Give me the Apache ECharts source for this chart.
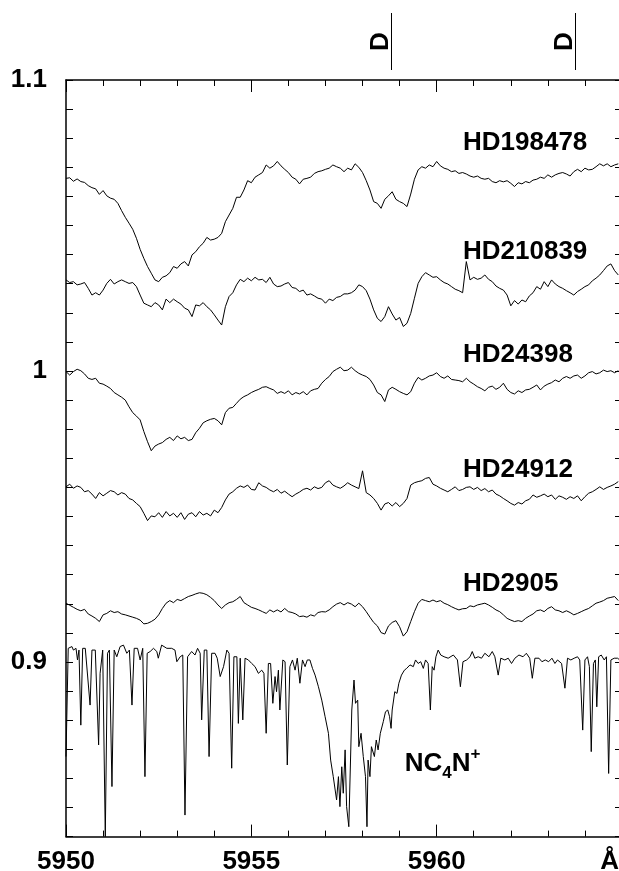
<!DOCTYPE html>
<html>
<head>
<meta charset="utf-8">
<script src="https://cdn.jsdelivr.net/npm/echarts@6/dist/echarts.min.js"></script>
<style>
  html, body { margin: 0; padding: 0; background: #fff; }
  #main { width: 619px; height: 871px; }
</style>
</head>
<body>
<div id="main"></div>
<script>
// stellar spectra: sampled every 0.1 A from 5950.0 A (150 points each)
var WAVE_START = 5950.0;
var WAVE_STEP = 0.1;

var hd198478 = [
  1.0662, 1.0664, 1.0652, 1.0660, 1.0651, 1.0648, 1.0637, 1.0630, 1.0626, 1.0607,
  1.0620, 1.0602, 1.0594, 1.0590, 1.0576, 1.0551, 1.0528, 1.0508, 1.0487, 1.0456,
  1.0418, 1.0387, 1.0359, 1.0336, 1.0313, 1.0307, 1.0322, 1.0327, 1.0338, 1.0359,
  1.0353, 1.0368, 1.0376, 1.0361, 1.0399, 1.0410, 1.0427, 1.0439, 1.0459, 1.0450,
  1.0453, 1.0459, 1.0473, 1.0513, 1.0536, 1.0559, 1.0597, 1.0597, 1.0622, 1.0654,
  1.0647, 1.0666, 1.0674, 1.0682, 1.0708, 1.0697, 1.0705, 1.0720, 1.0705, 1.0693,
  1.0682, 1.0666, 1.0659, 1.0643, 1.0659, 1.0662, 1.0666, 1.0679, 1.0685, 1.0688,
  1.0693, 1.0697, 1.0708, 1.0702, 1.0697, 1.0685, 1.0697, 1.0691, 1.0712, 1.0700,
  1.0682, 1.0654, 1.0622, 1.0582, 1.0576, 1.0559, 1.0590, 1.0602, 1.0616, 1.0590,
  1.0582, 1.0576, 1.0565, 1.0608, 1.0659, 1.0691, 1.0702, 1.0697, 1.0708, 1.0702,
  1.0720, 1.0705, 1.0697, 1.0693, 1.0685, 1.0688, 1.0679, 1.0682, 1.0677, 1.0670,
  1.0666, 1.0670, 1.0662, 1.0659, 1.0662, 1.0651, 1.0647, 1.0654, 1.0650, 1.0654,
  1.0645, 1.0634, 1.0647, 1.0643, 1.0651, 1.0647, 1.0656, 1.0659, 1.0666, 1.0662,
  1.0674, 1.0666, 1.0674, 1.0679, 1.0682, 1.0677, 1.0670, 1.0685, 1.0693, 1.0685,
  1.0697, 1.0691, 1.0693, 1.0702, 1.0712, 1.0705, 1.0712, 1.0702, 1.0708, 1.0712
];

var hd210839 = [
  1.0313, 1.0304, 1.0307, 1.0296, 1.0299, 1.0304, 1.0284, 1.0261, 1.0269, 1.0261,
  1.0278, 1.0301, 1.0315, 1.0299, 1.0307, 1.0313, 1.0307, 1.0301, 1.0304, 1.0290,
  1.0261, 1.0233, 1.0227, 1.0221, 1.0235, 1.0227, 1.0210, 1.0247, 1.0235, 1.0247,
  1.0238, 1.0230, 1.0216, 1.0210, 1.0187, 1.0227, 1.0224, 1.0235, 1.0221, 1.0210,
  1.0193, 1.0175, 1.0158, 1.0221, 1.0256, 1.0269, 1.0296, 1.0315, 1.0307, 1.0319,
  1.0310, 1.0322, 1.0313, 1.0315, 1.0304, 1.0322, 1.0299, 1.0290, 1.0292, 1.0299,
  1.0304, 1.0287, 1.0284, 1.0273, 1.0278, 1.0261, 1.0265, 1.0258, 1.0250, 1.0247,
  1.0233, 1.0247, 1.0242, 1.0253, 1.0256, 1.0265, 1.0265, 1.0269, 1.0278, 1.0296,
  1.0290, 1.0276, 1.0247, 1.0210, 1.0181, 1.0170, 1.0187, 1.0221, 1.0196, 1.0175,
  1.0184, 1.0153, 1.0164, 1.0198, 1.0250, 1.0301, 1.0324, 1.0338, 1.0330, 1.0322,
  1.0324, 1.0313, 1.0304, 1.0299, 1.0290, 1.0281, 1.0276, 1.0269, 1.0376, 1.0313,
  1.0322, 1.0315, 1.0319, 1.0330, 1.0315, 1.0307, 1.0292, 1.0284, 1.0278, 1.0261,
  1.0224, 1.0242, 1.0230, 1.0244, 1.0238, 1.0258, 1.0269, 1.0290, 1.0281, 1.0307,
  1.0290, 1.0313, 1.0299, 1.0290, 1.0284, 1.0276, 1.0269, 1.0261, 1.0273, 1.0281,
  1.0290, 1.0296, 1.0310, 1.0319, 1.0330, 1.0345, 1.0361, 1.0368, 1.0345, 1.0330
];

var hd24398 = [
  0.9998, 0.9986, 0.9998, 1.0006, 1.0001, 0.9990, 0.9975, 0.9971, 0.9975, 0.9958,
  0.9955, 0.9948, 0.9940, 0.9926, 0.9918, 0.9910, 0.9900, 0.9877, 0.9857, 0.9845,
  0.9832, 0.9792, 0.9757, 0.9726, 0.9742, 0.9749, 0.9754, 0.9765, 0.9772, 0.9761,
  0.9777, 0.9767, 0.9772, 0.9761, 0.9765, 0.9788, 0.9803, 0.9822, 0.9829, 0.9834,
  0.9837, 0.9829, 0.9815, 0.9857, 0.9872, 0.9875, 0.9889, 0.9903, 0.9912, 0.9918,
  0.9926, 0.9932, 0.9937, 0.9944, 0.9946, 0.9940, 0.9935, 0.9923, 0.9929, 0.9923,
  0.9932, 0.9918, 0.9926, 0.9921, 0.9929, 0.9918, 0.9932, 0.9937, 0.9940, 0.9958,
  0.9971, 0.9981, 0.9998, 1.0006, 1.0013, 1.0001, 1.0003, 1.0013, 1.0001, 0.9992,
  0.9986, 0.9981, 0.9971, 0.9952, 0.9926, 0.9918, 0.9895, 0.9935, 0.9944, 0.9937,
  0.9929, 0.9923, 0.9918, 0.9929, 0.9958, 0.9978, 0.9969, 0.9975, 0.9983, 0.9986,
  0.9994, 0.9981, 0.9975, 0.9983, 0.9971, 0.9969, 0.9967, 0.9963, 0.9975, 0.9963,
  0.9955, 0.9946, 0.9940, 0.9932, 0.9944, 0.9948, 0.9937, 0.9944, 0.9958, 0.9937,
  0.9926, 0.9921, 0.9932, 0.9926, 0.9935, 0.9937, 0.9944, 0.9952, 0.9935, 0.9948,
  0.9955, 0.9960, 0.9969, 0.9963, 0.9975, 0.9981, 0.9975, 0.9983, 0.9986, 0.9975,
  0.9983, 0.9994, 0.9998, 0.9990, 0.9994, 1.0003, 0.9998, 1.0001, 0.9994, 1.0001
];

var hd24912 = [
  0.9602, 0.9611, 0.9597, 0.9605, 0.9600, 0.9585, 0.9589, 0.9577, 0.9562, 0.9582,
  0.9571, 0.9580, 0.9589, 0.9585, 0.9574, 0.9582, 0.9577, 0.9562, 0.9557, 0.9545,
  0.9534, 0.9511, 0.9486, 0.9502, 0.9499, 0.9513, 0.9497, 0.9517, 0.9502, 0.9511,
  0.9497, 0.9513, 0.9490, 0.9508, 0.9513, 0.9499, 0.9517, 0.9505, 0.9511, 0.9502,
  0.9522, 0.9513, 0.9531, 0.9557, 0.9577, 0.9585, 0.9597, 0.9605, 0.9600, 0.9608,
  0.9593, 0.9591, 0.9616, 0.9605, 0.9600, 0.9591, 0.9585, 0.9593, 0.9580, 0.9587,
  0.9577, 0.9568, 0.9577, 0.9584, 0.9593, 0.9597, 0.9591, 0.9602, 0.9596, 0.9600,
  0.9616, 0.9623, 0.9608, 0.9602, 0.9597, 0.9605, 0.9616, 0.9608, 0.9602, 0.9596,
  0.9657, 0.9582, 0.9574, 0.9562, 0.9545, 0.9522, 0.9543, 0.9548, 0.9536, 0.9548,
  0.9534, 0.9545, 0.9562, 0.9608, 0.9616, 0.9620, 0.9623, 0.9631, 0.9634, 0.9611,
  0.9605, 0.9597, 0.9591, 0.9585, 0.9593, 0.9602, 0.9589, 0.9593, 0.9600, 0.9602,
  0.9593, 0.9600, 0.9589, 0.9596, 0.9585, 0.9591, 0.9577, 0.9571, 0.9562, 0.9554,
  0.9545, 0.9539, 0.9548, 0.9543, 0.9554, 0.9559, 0.9574, 0.9566, 0.9571, 0.9577,
  0.9568, 0.9574, 0.9559, 0.9571, 0.9566, 0.9559, 0.9568, 0.9562, 0.9571, 0.9554,
  0.9568, 0.9580, 0.9585, 0.9593, 0.9602, 0.9593, 0.9600, 0.9605, 0.9611, 0.9620
];

var hd2905 = [
  0.9202, 0.9195, 0.9188, 0.9181, 0.9176, 0.9181, 0.9165, 0.9158, 0.9150, 0.9139,
  0.9162, 0.9167, 0.9176, 0.9170, 0.9173, 0.9165, 0.9162, 0.9158, 0.9154, 0.9150,
  0.9144, 0.9131, 0.9133, 0.9139, 0.9147, 0.9162, 0.9184, 0.9202, 0.9211, 0.9204,
  0.9215, 0.9211, 0.9218, 0.9225, 0.9229, 0.9234, 0.9238, 0.9236, 0.9231, 0.9222,
  0.9211, 0.9196, 0.9184, 0.9196, 0.9204, 0.9207, 0.9215, 0.9225, 0.9204, 0.9196,
  0.9188, 0.9184, 0.9179, 0.9173, 0.9167, 0.9179, 0.9172, 0.9179, 0.9172, 0.9184,
  0.9173, 0.9170, 0.9165, 0.9156, 0.9158, 0.9154, 0.9162, 0.9158, 0.9170, 0.9173,
  0.9172, 0.9179, 0.9190, 0.9199, 0.9204, 0.9196, 0.9204, 0.9199, 0.9190, 0.9202,
  0.9190, 0.9173, 0.9154, 0.9136, 0.9124, 0.9101, 0.9096, 0.9124, 0.9136, 0.9142,
  0.9121, 0.9089, 0.9104, 0.9139, 0.9173, 0.9202, 0.9215, 0.9211, 0.9207, 0.9213,
  0.9207, 0.9211, 0.9202, 0.9197, 0.9190, 0.9184, 0.9179, 0.9183, 0.9184, 0.9193,
  0.9190, 0.9196, 0.9199, 0.9202, 0.9196, 0.9188, 0.9179, 0.9173, 0.9162, 0.9150,
  0.9144, 0.9139, 0.9142, 0.9139, 0.9150, 0.9158, 0.9165, 0.9176, 0.9179, 0.9173,
  0.9184, 0.9190, 0.9179, 0.9176, 0.9170, 0.9176, 0.9170, 0.9162, 0.9167, 0.9173,
  0.9179, 0.9184, 0.9193, 0.9202, 0.9206, 0.9211, 0.9219, 0.9222, 0.9225, 0.9211
];

// lab spectrum of NC4N+ : [wavelength, relative intensity], denser where lines are
var nc4n = [
  [5950.00, 0.8675], [5950.06, 0.9047], [5950.16, 0.9053], [5950.20, 0.9041], [5950.27, 0.9047],
  [5950.31, 0.9007], [5950.35, 0.9041], [5950.40, 0.8783], [5950.45, 0.9047], [5950.52, 0.9047],
  [5950.56, 0.9041], [5950.65, 0.8852], [5950.70, 0.9041], [5950.79, 0.9041], [5950.88, 0.8715],
  [5950.92, 0.8961], [5950.99, 0.9041], [5951.06, 0.8400], [5951.12, 0.9030], [5951.17, 0.9041],
  [5951.24, 0.8572], [5951.30, 0.9041], [5951.37, 0.9018], [5951.46, 0.9053], [5951.55, 0.9058],
  [5951.64, 0.9030], [5951.71, 0.9041], [5951.78, 0.8852], [5951.84, 0.9047], [5951.93, 0.9047],
  [5952.00, 0.9007], [5952.07, 0.9047], [5952.13, 0.8606], [5952.19, 0.9030], [5952.27, 0.9036],
  [5952.36, 0.9047], [5952.45, 0.9036], [5952.49, 0.9013], [5952.58, 0.9058], [5952.72, 0.9047],
  [5952.85, 0.9047], [5952.94, 0.9041], [5952.99, 0.9001], [5953.08, 0.9018], [5953.15, 0.9024],
  [5953.21, 0.8474], [5953.28, 0.9018], [5953.39, 0.9036], [5953.48, 0.9024], [5953.55, 0.9047],
  [5953.62, 0.9030], [5953.66, 0.8801], [5953.73, 0.9041], [5953.80, 0.9041], [5953.86, 0.8675],
  [5953.93, 0.9030], [5954.02, 0.9030], [5954.08, 0.9013], [5954.16, 0.8950], [5954.25, 0.8984],
  [5954.34, 0.9041], [5954.40, 0.9030], [5954.47, 0.8635], [5954.53, 0.9018], [5954.61, 0.9018],
  [5954.65, 0.8789], [5954.70, 0.9013], [5954.77, 0.8801], [5954.83, 0.9013], [5954.92, 0.9007],
  [5955.01, 0.8995], [5955.10, 0.8984], [5955.19, 0.8961], [5955.28, 0.8972], [5955.34, 0.8961],
  [5955.40, 0.8755], [5955.46, 0.8995], [5955.52, 0.8995], [5955.58, 0.8858], [5955.64, 0.8950],
  [5955.68, 0.8898], [5955.73, 0.8972], [5955.77, 0.8835], [5955.85, 0.9007], [5955.91, 0.9001],
  [5955.97, 0.8646], [5956.04, 0.8984], [5956.11, 0.9007], [5956.18, 0.8972], [5956.24, 0.9013],
  [5956.31, 0.8927], [5956.38, 0.9007], [5956.45, 0.8984], [5956.51, 0.9007], [5956.58, 0.9007],
  [5956.65, 0.8978], [5956.72, 0.8955], [5956.81, 0.8915], [5956.90, 0.8869], [5956.99, 0.8812],
  [5957.08, 0.8755], [5957.14, 0.8663], [5957.21, 0.8606], [5957.26, 0.8606], [5957.30, 0.8526],
  [5957.35, 0.8606], [5957.39, 0.8503], [5957.44, 0.8640], [5957.48, 0.8549], [5957.53, 0.8698],
  [5957.57, 0.8503], [5957.63, 0.8434], [5957.71, 0.8835], [5957.77, 0.8938], [5957.81, 0.8858],
  [5957.87, 0.8869], [5957.90, 0.8709], [5957.96, 0.8755], [5958.02, 0.8675], [5958.08, 0.8606],
  [5958.12, 0.8434], [5958.15, 0.8663], [5958.20, 0.8606], [5958.24, 0.8709], [5958.32, 0.8675],
  [5958.37, 0.8732], [5958.42, 0.8698], [5958.48, 0.8755], [5958.56, 0.8795], [5958.62, 0.8829],
  [5958.68, 0.8835], [5958.73, 0.8812], [5958.77, 0.8772], [5958.80, 0.8835], [5958.87, 0.8898],
  [5958.93, 0.8892], [5958.98, 0.8927], [5959.05, 0.8955], [5959.13, 0.8972], [5959.19, 0.8978],
  [5959.28, 0.8990], [5959.37, 0.8984], [5959.43, 0.9007], [5959.50, 0.8995], [5959.57, 0.9001],
  [5959.64, 0.8978], [5959.70, 0.9007], [5959.77, 0.8995], [5959.83, 0.8835], [5959.88, 0.8984],
  [5959.93, 0.8972], [5959.98, 0.9018], [5960.04, 0.9041], [5960.11, 0.9024], [5960.20, 0.9018],
  [5960.31, 0.9013], [5960.45, 0.9024], [5960.56, 0.9007], [5960.64, 0.8915], [5960.71, 0.9001],
  [5960.81, 0.9007], [5960.90, 0.9018], [5960.96, 0.9036], [5961.03, 0.9013], [5961.12, 0.9018],
  [5961.21, 0.9013], [5961.30, 0.9030], [5961.41, 0.9018], [5961.50, 0.9036], [5961.57, 0.9018],
  [5961.66, 0.8955], [5961.73, 0.9013], [5961.84, 0.9007], [5961.93, 0.9013], [5962.02, 0.8995],
  [5962.11, 0.9013], [5962.22, 0.9024], [5962.33, 0.9018], [5962.42, 0.9030], [5962.51, 0.9013],
  [5962.58, 0.8944], [5962.65, 0.9013], [5962.76, 0.9013], [5962.84, 0.9001], [5962.93, 0.9007],
  [5963.02, 0.9001], [5963.11, 0.9013], [5963.19, 0.8995], [5963.26, 0.9007], [5963.37, 0.8995],
  [5963.46, 0.8910], [5963.53, 0.9013], [5963.62, 0.9007], [5963.71, 0.9013], [5963.80, 0.9018],
  [5963.86, 0.9007], [5963.94, 0.8766], [5964.00, 0.9007], [5964.07, 0.9018], [5964.12, 0.8984],
  [5964.17, 0.8692], [5964.23, 0.8995], [5964.28, 0.9007], [5964.32, 0.8846], [5964.37, 0.9018],
  [5964.44, 0.9024], [5964.52, 0.9007], [5964.58, 0.9018], [5964.64, 0.8617], [5964.70, 0.9007],
  [5964.79, 0.9013], [5964.88, 0.9013], [5964.94, 0.9007]
];

var xTickLabels = [5950, 5955, 5960];
var yTickLabels = [0.9, 1.0, 1.1];
var dLines = [5958.77, 5963.73];   // positions of the "D" markers above the frame

var FONT = '"Liberation Sans", Arial, Helvetica, sans-serif';

function onGrid(vals) {
  return vals.map(function (v, i) {
    return [Math.round((WAVE_START + i * WAVE_STEP) * 100) / 100, v];
  });
}

function spec(name, data) {
  return {
    name: name, type: 'line', data: data, showSymbol: false, symbol: 'none',
    lineStyle: { color: '#000', width: 1 }, silent: true, animation: false
  };
}

var myChart = echarts.init(document.getElementById('main'));

var xCommon = {
  type: 'value', min: 5950, max: 5965, interval: 5,
  axisLine: { onZero: false, lineStyle: { color: '#000', width: 1.5 } },
  axisTick: { inside: true, length: 12, lineStyle: { color: '#000', width: 1 } },
  minorTick: { show: true, splitNumber: 5, length: 6, lineStyle: { color: '#000', width: 1 } },
  splitLine: { show: false },
  minorSplitLine: { show: false }
};
var yCommon = {
  type: 'value', min: 0.84, max: 1.1, interval: 0.01,
  axisLine: { onZero: false, lineStyle: { color: '#000', width: 1.5 } },
  axisTick: { inside: true, length: 7, lineStyle: { color: '#000', width: 1 } },
  splitLine: { show: false }
};

var option = {
  backgroundColor: '#fff',
  animation: false,
  grid: { left: 66, top: 80, width: 556, height: 756.6, containLabel: false, outerBoundsMode: 'none' },
  xAxis: [
    Object.assign({}, xCommon, {
      position: 'bottom',
      axisLabel: {
        margin: 12, color: '#000', fontSize: 26, fontWeight: 'bold', fontFamily: FONT,
        formatter: function (v) { return xTickLabels.indexOf(v) >= 0 ? String(v) : ''; }
      }
    }),
    Object.assign({}, xCommon, { position: 'top', axisLabel: { show: false } })
  ],
  yAxis: [
    Object.assign({}, yCommon, {
      position: 'left',
      axisLabel: {
        margin: 19, color: '#000', fontSize: 26, fontWeight: 'bold', fontFamily: FONT,
        formatter: function (v) {
          for (var k = 0; k < yTickLabels.length; k++) {
            if (Math.abs(yTickLabels[k] - v) < 1e-6) return String(yTickLabels[k]);
          }
          return '';
        }
      }
    }),
    Object.assign({}, yCommon, { position: 'right', axisLabel: { show: false } })
  ],
  series: [
    spec('HD198478', onGrid(hd198478)),
    spec('HD210839', onGrid(hd210839)),
    spec('HD24398', onGrid(hd24398)),
    spec('HD24912', onGrid(hd24912)),
    spec('HD2905', onGrid(hd2905)),
    spec('NC4N+', nc4n)
  ]
};
myChart.setOption(option);

// annotations placed through the axes
function toPx(x, y) {
  return myChart.convertToPixel({ xAxisIndex: 0, yAxisIndex: 0 }, [x, y]);
}
var starLabels = [
  ['HD198478', 5960.71, 1.0784],
  ['HD210839', 5960.71, 1.0409],
  ['HD24398', 5960.71, 1.0055],
  ['HD24912', 5960.71, 0.9660],
  ['HD2905', 5960.71, 0.9268]
];
var graphics = [];
starLabels.forEach(function (s) {
  var p = toPx(s[1], s[2]);
  graphics.push({
    type: 'text', x: p[0], y: p[1], silent: true,
    style: { text: s[0], fill: '#000', fontSize: 26, fontWeight: 'bold', fontFamily: FONT,
             align: 'left', verticalAlign: 'middle' }
  });
});
var pn = toPx(5959.14, 0.8650);
graphics.push({
  type: 'text', x: pn[0], y: pn[1], silent: true,
  style: {
    text: '{m|NC}{s|4}{m|N}{p|+}', align: 'left', verticalAlign: 'middle', fill: '#000',
    rich: {
      m: { fontSize: 26, fontWeight: 'bold', fontFamily: FONT, lineHeight: 36, verticalAlign: 'middle', fill: '#000' },
      s: { fontSize: 17, fontWeight: 'bold', fontFamily: FONT, lineHeight: 17, verticalAlign: 'bottom', fill: '#000' },
      p: { fontSize: 17, fontWeight: 'bold', fontFamily: FONT, lineHeight: 17, verticalAlign: 'top', fill: '#000' }
    }
  }
});
dLines.forEach(function (w) {
  var x = Math.round(toPx(w, 1.1)[0]) + 0.5;
  graphics.push({
    type: 'line', silent: true,
    shape: { x1: x, y1: 13, x2: x, y2: 70 },
    style: { stroke: '#000', lineWidth: 1 }
  });
  graphics.push({
    type: 'text', x: x - 11, y: 41.5, rotation: Math.PI / 2, silent: true,
    style: { text: 'D', fill: '#000', fontSize: 26, fontWeight: 'bold', fontFamily: FONT,
             align: 'center', verticalAlign: 'middle' }
  });
});
graphics.push({
  type: 'text', x: 619, y: 862, silent: true,
  style: { text: 'Å', fill: '#000', fontSize: 26, fontWeight: 'bold', fontFamily: FONT,
           align: 'right', verticalAlign: 'middle' }
});
myChart.setOption({ graphic: graphics });
</script>
</body>
</html>
